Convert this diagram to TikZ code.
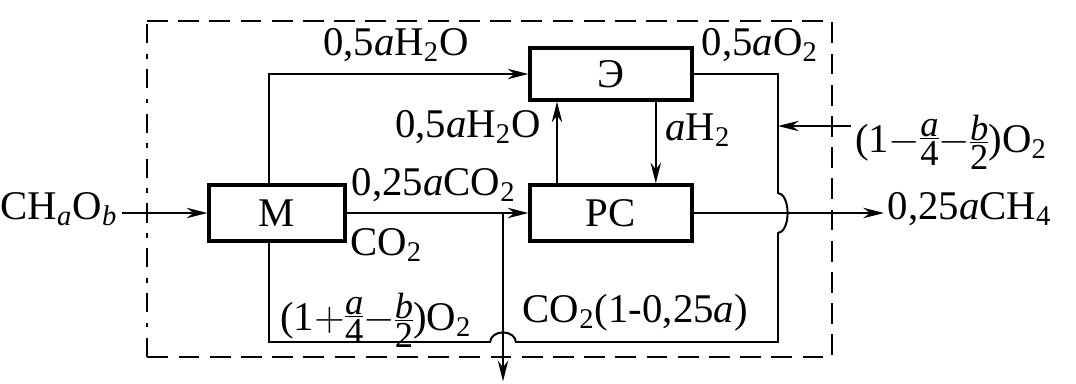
\documentclass[tikz,border=0pt]{standalone}
\usepackage{amsmath}
\usepackage{fontspec}
\setmainfont{Liberation Serif}
\usepackage{tikz}
\usetikzlibrary{arrows.meta}
\newcommand{\ix}[1]{$_{\text{#1}}$}
\newcommand{\frc}[2]{\vcenter{\hbox{\fontsize{13}{13}\selectfont
  \oalign{\hfil\itshape #1\hfil\cr\noalign{\kern0.3pt\hrule\kern0.8pt}%
  \hfil#2\hfil\cr}}}}

\begin{document}
\begin{tikzpicture}[
  every node/.style={font=\fontsize{14.5}{17}\selectfont,inner sep=1pt},
  unit/.style={draw,line width=1.1pt,minimum width=2.025cm,
    minimum height=0.7cm,inner sep=0pt},
  every path/.style={line width=0.7pt},
  >={Stealth[length=2.6mm,width=1.3mm]}
]
\useasboundingbox (0,0) rectangle (13.45,4.7875);
% border of the installation
\draw[line width=0.9pt,dash pattern=on 2.4mm off 1.3mm on 0.6mm off 1.3mm]
  (1.8375,0.325) -- (1.8375,4.525);
\draw[line width=0.9pt,dash pattern=on 2.6mm off 1.3mm]
  (1.8375,4.525) -- (10.4,4.525) -- (10.4,0.325) -- (1.8375,0.325);
% units
\node[unit,minimum width=1.7cm] (mix) at (3.4625,2.125) {М};
\node[unit,minimum height=0.65cm] (el) at (7.6375,3.8625) {Э};
\node[unit] (rs) at (7.6375,2.125) {РС};
% streams in and out
\node[anchor=mid east] (feed) at (1.52,2.125) {CH\ix{\itshape a}O\ix{\itshape b}};
\node[anchor=mid west] (ch4) at (11.05,2.125) {0,25\textit{a}CH\ix{4}};
\node[anchor=base west] (ox) at (10.64,2.88)
  {$\text{(1}{-}\frc{a}{4}{-}\frc{b}{2}\text{)}$O\ix{2}};
% labels
\node (h2oa) at (4.95,4.225) {0,5\textit{a}H\ix{2}O};
\node (h2ob) at (5.85,3.2) {0,5\textit{a}H\ix{2}O};
\node (co2a) at (5.425,2.475) {0,25\textit{a}CO\ix{2}};
\node (co2b) at (4.83,1.725) {CO\ix{2}};
\node (o2e) at (9.5,4.225) {0,5\textit{a}O\ix{2}};
\node[anchor=west] (h2) at (8.27,3.16) {\textit{a}H\ix{2}};
\node[anchor=base] (o2m) at (4.7,0.66)
  {$\text{(1}{+}\frc{a}{4}{-}\frc{b}{2}\text{)}$O\ix{2}};
\node (co2r) at (7.94,0.875) {CO\ix{2}(1-0,25\textit{a})};
% bends
\coordinate (tap) at (6.2875,2.125);
\coordinate (vent) at (6.2875,0.02);
\coordinate (oin) at (9.725,3.2125);
\coordinate (hop) at (9.725,2.375);
\coordinate (se) at (9.725,0.5125);
\coordinate (jump) at (6.4475,0.5125);
\coordinate (sw) at (3.3625,0.5125);
% connectors
\draw[->] (feed.mid east) -- (mix.west);
\draw[->] (mix.east) -- (rs.west);
\draw[->] (rs.east) -- (ch4.mid west);
\draw[->] ([xshift=-1mm]mix.north) |- (el.west);
\draw[->] ([xshift=-6.75mm]rs.north) -- ([xshift=-6.75mm]el.south);
\draw[->] ([xshift=5.6mm]el.south) -- ([xshift=5.6mm]rs.north);
\draw[->] (tap) -- (vent);
\draw[->] (ox.west |- oin) -- (oin);
\draw (el.east) -| (hop)
  arc[start angle=90,end angle=-90,x radius=0.12,y radius=0.25]
  -- (se) -- (jump)
  arc[start angle=0,end angle=180,x radius=0.16,y radius=0.12]
  -- (sw) -- ([xshift=-1mm]mix.south);
\end{tikzpicture}
\end{document}
